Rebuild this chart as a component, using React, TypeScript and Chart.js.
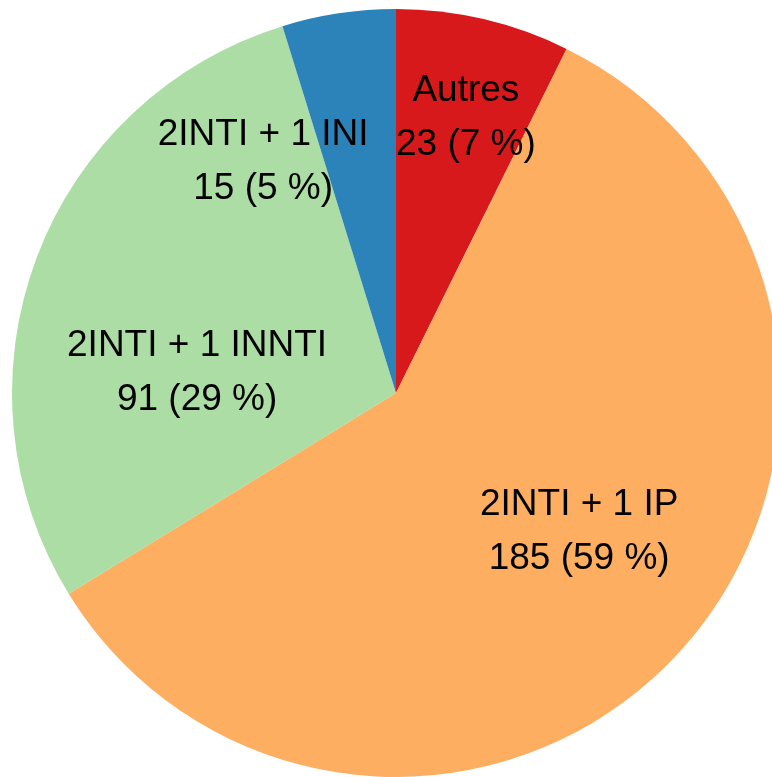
import React, { useEffect, useRef } from "react";
import { Chart, registerables } from "chart.js";

Chart.register(...registerables);

const categories = ["Autres", "2INTI + 1 IP", "2INTI + 1 INNTI", "2INTI + 1 INI"];
const counts = [23, 185, 91, 15];
const colors = ["#D7191C", "#FDAE61", "#ABDDA4", "#2B83BA"];

// label block centre, as a fraction of the pie radius, relative to the pie centre
const labelOffsets = [
  [0.182, -0.717],
  [0.477, 0.361],
  [-0.518, -0.053],
  [-0.346, -0.602],
];

const labelPlugin = {
  id: "pieLabels",
  afterDatasetsDraw(chart: any) {
    const ctx = chart.ctx;
    const meta = chart.getDatasetMeta(0);
    const total = counts.reduce((a, b) => a + b, 0);
    ctx.save();
    ctx.font = "37px 'Liberation Sans', Arial, sans-serif";
    ctx.fillStyle = "#000000";
    ctx.textAlign = "center";
    ctx.textBaseline = "middle";
    meta.data.forEach((arc: any, i: number) => {
      const R = arc.outerRadius;
      const cx = arc.x + labelOffsets[i][0] * R;
      const cy = arc.y + labelOffsets[i][1] * R;
      const pct = Math.round((counts[i] / total) * 100);
      const gap = 54;
      ctx.fillText(categories[i], cx, cy - gap / 2);
      ctx.fillText(`${counts[i]} (${pct} %)`, cx, cy + gap / 2);
    });
    ctx.restore();
  },
};

export default function App() {
  const ref = useRef<HTMLCanvasElement>(null);
  useEffect(() => {
    document.body.style.margin = "0";
    const chart = new Chart(ref.current!, {
      type: "pie",
      data: {
        labels: categories,
        datasets: [
          {
            data: counts,
            backgroundColor: colors,
            borderWidth: 0,
            hoverOffset: 0,
          },
        ],
      },
      options: {
        responsive: false,
        animation: false,
        events: [],
        layout: { padding: { top: 9, bottom: 0, left: 0, right: 0 } },
        plugins: {
          legend: { display: false },
          tooltip: { enabled: false },
        },
      },
      plugins: [labelPlugin],
    });
    return () => chart.destroy();
  }, []);
  return (
    <div
      style={{
        position: "fixed",
        left: 0,
        top: 0,
        width: 772,
        height: 777,
        overflow: "hidden",
        background: "#ffffff",
      }}
    >
      <canvas ref={ref} width={792} height={777} style={{ display: "block" }} />
    </div>
  );
}
